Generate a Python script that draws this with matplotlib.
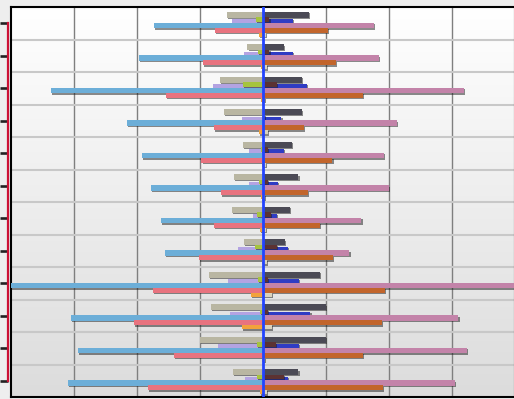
import numpy as np
import matplotlib
matplotlib.use('Agg')
import matplotlib.pyplot as plt
import matplotlib.patheffects as pe
from matplotlib.colors import LinearSegmentedColormap

groups = list(range(12))

# left side (negative values)
beige      = [-0.57, -0.25, -0.68, -0.62, -0.32, -0.46, -0.49, -0.30, -0.86, -0.83, -1.00, -0.48]
green      = [-0.11, -0.08, -0.32, -0.02, -0.03, -0.06, -0.10, -0.13, -0.08, -0.05, -0.10, -0.10]
lavender   = [-0.49, -0.30, -0.79, -0.33, -0.22, -0.22, -0.16, -0.40, -0.56, -0.52, -0.71, -0.29]
light_blue = [-1.73, -1.97, -3.37, -2.16, -1.92, -1.78, -1.62, -1.56, -4.00, -3.05, -2.94, -3.10]
salmon     = [-0.76, -0.95, -1.54, -0.78, -0.98, -0.67, -0.78, -1.02, -1.75, -2.05, -1.41, -1.83]
orange     = [-0.06, -0.03, -0.03, -0.06, -0.02, -0.03, -0.05, -0.02, -0.19, -0.33, -0.02, -0.05]

# right side (positive values)
dark_gray  = [0.73, 0.33, 0.62, 0.62, 0.46, 0.56, 0.43, 0.35, 0.90, 1.00, 1.00, 0.56]
maroon     = [0.10, 0.10, 0.22, 0.02, 0.08, 0.08, 0.13, 0.22, 0.08, 0.08, 0.21, 0.33]
blue       = [0.48, 0.48, 0.70, 0.29, 0.33, 0.24, 0.22, 0.40, 0.57, 0.75, 0.57, 0.40]
mauve      = [1.76, 1.84, 3.19, 2.13, 1.92, 2.00, 1.56, 1.37, 4.20, 3.10, 3.24, 3.05]
rust       = [1.03, 1.16, 1.59, 0.65, 1.10, 0.71, 0.90, 1.11, 1.94, 1.89, 1.59, 1.90]
tan        = [0.05, 0.06, 0.02, 0.08, 0.05, 0.03, 0.05, 0.06, 0.14, 0.14, 0.03, 0.06]

# row layout inside each band: (offset, height, left values, right values, left colour, right colour)
rows = [
    (0.238, 0.18,  beige,      dark_gray, '#b9b6a2', '#4b4a55'),
    (0.46,  0.17,  lavender,   blue,      '#b3a3e2', '#2f3cc4'),
    (0.385, 0.13,  green,      maroon,    '#a6c43e', '#5c3232'),
    (0.57,  0.17,  light_blue, mauve,     '#6caed8', '#c383a9'),
    (0.72,  0.15,  salmon,     rust,      '#e8737f', '#c2652c'),
    (0.855, 0.13,  orange,     tan,       '#f2a23c', '#d9d2bc'),
]

fig = plt.figure(figsize=(5.14, 3.99), dpi=100)
fig.patch.set_facecolor('#eeeeee')
ax = fig.add_axes([11/514, 2/399, 504/514, 390/399])

grad = LinearSegmentedColormap.from_list('bg', ['#ffffff', '#dcdcdc'])
ax.imshow(np.linspace(0, 1, 256).reshape(-1, 1), cmap=grad, extent=(-4, 4, 12, 0),
          aspect='auto', zorder=0)

shadow = [pe.SimplePatchShadow(offset=(0.9, -0.9), shadow_rgbFace='#1a1a1a', alpha=0.5), pe.Normal()]
y = np.array(groups, dtype=float)
for off, h, lv, rv, lc, rc in rows:
    ax.barh(y + off, lv, height=h, color=lc, zorder=3, path_effects=shadow)
    ax.barh(y + off, rv, height=h, color=rc, zorder=3, path_effects=shadow)

for xv in [-3, -2, -1, 1, 2, 3]:
    ax.axvline(xv, color='#7f7f7f', lw=1.0, zorder=1)
for yv in range(1, 12):
    ax.axhline(yv, color='#c8c8c8', lw=1.5, zorder=1)
ax.axvline(0, color='#2244ff', lw=2.0, zorder=5)

ax.set_xlim(-4, 4)
ax.set_ylim(12, 0)
ax.set_xticks([])
ax.set_yticks([])
for s in ax.spines.values():
    s.set_color('black')
    s.set_linewidth(1.5)

# outer red axis with black ticks
ax2 = fig.add_axes(ax.get_position(), facecolor='none')
ax2.set_ylim(12, 0)
ax2.set_xticks([])
for name in ['top', 'right', 'bottom']:
    ax2.spines[name].set_visible(False)
ax2.spines['left'].set_position(('outward', 2.2))
ax2.spines['left'].set_color('#cc1135')
ax2.spines['left'].set_linewidth(1.6)
ax2.spines['left'].set_bounds(0.5, 11.5)
ax2.set_yticks(np.array(groups) + 0.5)
ax2.tick_params(axis='y', length=6.0, width=1.9, color='#222222', labelleft=False)

fig.savefig('out.png', dpi=100, facecolor=fig.get_facecolor())
